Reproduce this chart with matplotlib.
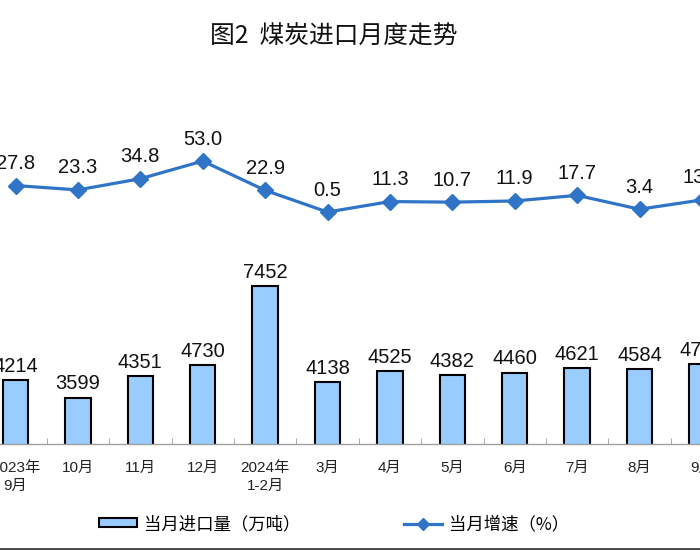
import numpy as np
import matplotlib
matplotlib.use("Agg")
import matplotlib.pyplot as plt
from matplotlib.patches import Patch
from matplotlib.lines import Line2D

plt.rcParams['font.family'] = ['Liberation Sans', 'Noto Sans CJK SC', 'DejaVu Sans']

# data
months = ["2023年\n9月", "10月", "11月", "12月", "2024年\n1-2月", "3月",
          "4月", "5月", "6月", "7月", "8月", "9月"]
imports = [4214, 3599, 4351, 4730, 7452, 4138, 4525, 4382, 4460, 4621, 4584, 4739]
growth = [27.8, 23.3, 34.8, 53.0, 22.9, 0.5, 11.3, 10.7, 11.9, 17.7, 3.4, 13.0]

bar_color = "#99CCFF"
line_color = "#2F74C6"

W, H = 700, 550
fig = plt.figure(figsize=(W / 100, H / 100), dpi=100)

# axes is wider than the figure, so the first and last month are cut off
left_px, right_px = -15.7, 733.1
bottom_px, top_px = 444, 100
ax = fig.add_axes([left_px / W, 1 - bottom_px / H,
                   (right_px - left_px) / W, (bottom_px - top_px) / H])
ax2 = ax.twinx()

x = np.arange(len(months))
ax.bar(x, imports, width=0.41, color=bar_color, edgecolor="black", linewidth=1.5,
       zorder=2)
for xi, v in zip(x, imports):
    ax.annotate(str(v), (xi, v), xytext=(0, 3), textcoords="offset points",
                ha="center", va="bottom", fontsize=14.5, color="#111111")

ax2.plot(x, growth, color=line_color, lw=2.3, marker="D", markersize=8, zorder=3)
for xi, v in zip(x, growth):
    ax2.annotate(f"{v:.1f}", (xi, v), xytext=(0, 9), textcoords="offset points",
                 ha="center", va="bottom", fontsize=14.5, color="#111111")

ax.set_xlim(-0.5, len(months) - 0.5)
ax.set_ylim(2000, 13850)
ax2.set_ylim(-238.4, 115.9)

for a in (ax, ax2):
    for s in ("left", "right", "top"):
        a.spines[s].set_visible(False)
    a.set_yticks([])
ax2.spines["bottom"].set_visible(False)
ax.spines["bottom"].set_color("#A0A0A0")
ax.spines["bottom"].set_linewidth(1.0)

ax.set_xticks(x)
ax.set_xticklabels(months, fontsize=11, color="#222222", linespacing=1.35)
ax.tick_params(axis="x", which="major", length=0, pad=12)
ax.set_xticks(x[:-1] + 0.5, minor=True)
ax.tick_params(axis="x", which="minor", direction="in", length=4, color="#A0A0A0")

fig.text(334 / W, 1 - 37 / H, "图2  煤炭进口月度走势", ha="center", va="center",
         fontsize=17.8, color="#111111", family=["Noto Sans CJK SC", "DejaVu Sans"])

handles = [Patch(facecolor=bar_color, edgecolor="black", linewidth=1.5),
           Line2D([], [], color=line_color, lw=2.3, marker="D", markersize=6)]
fig.legend(handles, ["当月进口量（万吨）", "当月增速（%）"], ncol=2, frameon=False,
           loc="center", bbox_to_anchor=(334 / W, 1 - 524 / H),
           prop={"family": ["Noto Sans CJK SC", "DejaVu Sans"], "size": 12.5},
           handlelength=2.2, handleheight=0.45, handletextpad=0.4, columnspacing=6.0)

# dark border line along the bottom edge
fig.add_artist(Line2D([0, 1], [1.5 / H, 1.5 / H], transform=fig.transFigure,
                      color="#404040", lw=2))

fig.savefig("out.png", dpi=100)
